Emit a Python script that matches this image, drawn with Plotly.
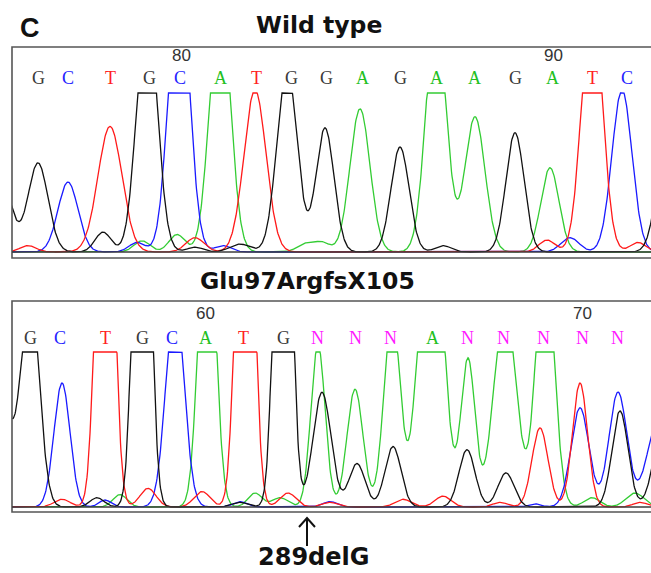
import numpy as np
import plotly.graph_objects as go

W, H = 651, 573

# ---------------- data ----------------
# Wild type panel: base calls, their scan positions, position ticks
wt_calls = list("GCTGCATGGAGAAGATC")
wt_call_pos = [38, 68, 110, 149, 180, 220, 256, 291, 326, 362, 400, 436, 474, 515, 552, 592, 627]
wt_tick_labels = ["80", "90"]
wt_tick_pos = [181, 553]

# Wild type trace peaks per dye channel: (scan position, relative height, width)
wt_peaks_G = [(2, 0.42, 10), (38, 0.56, 10), (103, 0.125, 8), (147, 1.57, 10), (195, 0.03, 8),
              (240, 0.05, 10), (287, 1.16, 10), (325, 0.78, 9), (400, 0.66, 9), (443, 0.04, 8),
              (515, 0.75, 9), (668, 0.8, 10)]
wt_peaks_C = [(68, 0.44, 10), (137, 0.06, 8), (179, 1.83, 10), (223, 0.04, 8), (570, 0.09, 9),
              (622, 1.02, 10)]
wt_peaks_T = [(28, 0.04, 8), (110, 0.79, 12), (195, 0.09, 9), (255, 1.02, 11), (547, 0.075, 8),
              (592, 1.65, 10), (638, 0.06, 8)]
wt_peaks_A = [(142, 0.07, 8), (177, 0.11, 8), (220, 1.65, 10), (305, 0.05, 8), (322, 0.06, 8),
              (360, 0.9, 10), (436, 1.5, 10), (475, 0.85, 10), (550, 0.53, 9)]

# Mutant panel (Glu97ArgfsX105)
mut_calls = list("GCTGCATGNNNANNNNN")
mut_call_pos = [30, 60, 105, 142, 172, 205, 243, 283, 317, 355, 390, 432, 467, 503, 543, 582, 617]
mut_tick_labels = ["60", "70"]
mut_tick_pos = [205, 582]

mut_peaks_G = [(2, 0.7, 9), (30, 1.42, 9), (97, 0.06, 7), (142, 4.0, 7), (240, 0.03, 8),
               (283, 4.0, 7), (322, 0.74, 9), (357, 0.28, 8), (393, 0.39, 8), (467, 0.37, 8),
               (506, 0.22, 8), (620, 0.62, 8), (665, 0.6, 10)]
mut_peaks_C = [(62, 0.8, 8), (105, 0.045, 6), (175, 1.35, 9), (240, 0.035, 7), (330, 0.035, 7),
               (535, 0.02, 6), (580, 0.64, 9), (618, 0.74, 9), (660, 0.6, 12)]
mut_peaks_T = [(62, 0.05, 8), (105, 3.7, 7.4), (148, 0.12, 8), (202, 0.1, 8), (245, 3.7, 7.4),
               (288, 0.09, 8), (330, 0.03, 8), (403, 0.05, 8), (443, 0.07, 8), (500, 0.03, 7),
               (540, 0.51, 8), (580, 0.8, 7.5), (640, 0.03, 7)]
mut_peaks_A = [(120, 0.08, 7), (207, 2.25, 7.8), (255, 0.09, 7), (280, 0.06, 8), (318, 1.05, 7),
               (355, 0.76, 8), (392, 1.26, 8), (431, 2.3, 11), (468, 0.95, 7), (505, 1.3, 11),
               (545, 1.7, 8.8), (592, 0.06, 8), (635, 0.09, 9)]

# ---------------- styling ----------------
DYE = {"A": "#33cc33", "C": "#1a1aff", "G": "#111111", "T": "#ff1a1a"}
CALL_COLOR = {"A": "#22c022", "C": "#2424ff", "G": "#3a3a3a", "T": "#ff2020", "N": "#ff1aff"}

xs = np.arange(0, 680.5, 0.5)


def signal(peaks):
    y = np.zeros_like(xs)
    for p, h, w in peaks:
        y += h * np.exp(-0.5 * ((xs - p) / w) ** 2)
    return np.minimum(y, 1.0)


def py(p):
    return 1 - p / H


def px(p):
    return p / W


fig = go.Figure()

panels = [
    dict(xa="x", ya="y", peaks={"A": wt_peaks_A, "C": wt_peaks_C, "T": wt_peaks_T, "G": wt_peaks_G}),
    dict(xa="x2", ya="y2", peaks={"A": mut_peaks_A, "C": mut_peaks_C, "T": mut_peaks_T, "G": mut_peaks_G}),
]
for pnl in panels:
    for base in ["A", "C", "T", "G"]:
        fig.add_trace(go.Scatter(x=xs, y=signal(pnl["peaks"][base]), mode="lines",
                                 line=dict(color=DYE[base], width=1.3),
                                 xaxis=pnl["xa"], yaxis=pnl["ya"], hoverinfo="skip",
                                 showlegend=False))

# geometry (pixels)
LEFT = 12
top_box = (47, 258)
top_base, top_peak = 252, 93
bot_box = (301, 512)
bot_base, bot_peak = 507, 352

t_scale = top_base - top_peak
b_scale = bot_base - bot_peak

axis_common = dict(showgrid=False, zeroline=False, showticklabels=False, ticks="", showline=False)
fig.update_layout(
    width=W, height=H, margin=dict(l=0, r=0, t=0, b=0),
    paper_bgcolor="white", plot_bgcolor="white",
    xaxis=dict(domain=[px(LEFT), 1], range=[LEFT, W], **axis_common),
    xaxis2=dict(domain=[px(LEFT), 1], range=[LEFT, W], anchor="y2", **axis_common),
    yaxis=dict(domain=[py(top_box[1]), py(top_box[0])],
               range=[-(top_box[1] - top_base) / t_scale, 1 + (top_peak - top_box[0]) / t_scale],
               **axis_common),
    yaxis2=dict(domain=[py(bot_box[1]), py(bot_box[0])],
                range=[-(bot_box[1] - bot_base) / b_scale, 1 + (bot_peak - bot_box[0]) / b_scale],
                anchor="x2", **axis_common),
)

shapes = []
for (b0, b1), base_px in [(top_box, top_base), (bot_box, bot_base)]:
    shapes.append(dict(type="rect", xref="paper", yref="paper", x0=px(LEFT), x1=1.02,
                       y0=py(b1), y1=py(b0), line=dict(color="#555555", width=1.6)))
for yref in ["y", "y2"]:
    shapes.append(dict(type="line", xref="paper", yref=yref, x0=px(LEFT), x1=1, y0=0, y1=0,
                       line=dict(color="#3c3c3c", width=1.4)))
# arrow marking the deletion
ax = 307
arrow_path = (f"M {px(ax)} {py(546)} L {px(ax)} {py(518)} "
              f"M {px(ax - 8)} {py(527)} L {px(ax)} {py(518)} L {px(ax + 8)} {py(527)}")
shapes.append(dict(type="path", xref="paper", yref="paper", path=arrow_path,
                   line=dict(color="#111111", width=2)))
fig.update_layout(shapes=shapes)

ann = []
title_font = dict(family="DejaVu Sans", size=23.5, color="#111111")


def label(text, x, y, font):
    ann.append(dict(text=text, x=px(x), y=py(y), xref="paper", yref="paper", showarrow=False,
                    xanchor="center", yanchor="middle", borderpad=0, font=font))


label("<b>C</b>", 30, 28, dict(family="Liberation Sans", size=27, color="#111111"))
label("<b>Wild type</b>", 319, 25, title_font)
label("<b>Glu97ArgfsX105</b>", 307, 281, title_font)
label("<b>289delG</b>", 313, 557, dict(family="DejaVu Sans", size=24, color="#111111"))

call_font = "Liberation Serif"
for calls, pos, xref, yref, ylet in [(wt_calls, wt_call_pos, "x", "y", 1 + (top_peak - 78) / t_scale),
                                     (mut_calls, mut_call_pos, "x2", "y2", 1 + (bot_peak - 338) / b_scale)]:
    for c, p in zip(calls, pos):
        ann.append(dict(text=c, x=p, y=ylet, xref=xref, yref=yref, showarrow=False,
                        xanchor="center", yanchor="middle",
                        font=dict(family=call_font, size=18, color=CALL_COLOR[c])))
for labels, pos, xref, yref, ynum in [(wt_tick_labels, wt_tick_pos, "x", "y", 1 + (top_peak - 55) / t_scale),
                                      (mut_tick_labels, mut_tick_pos, "x2", "y2", 1 + (bot_peak - 313) / b_scale)]:
    for lab, p in zip(labels, pos):
        ann.append(dict(text=lab, x=p, y=ynum, xref=xref, yref=yref, showarrow=False,
                        xanchor="center", yanchor="middle",
                        font=dict(family="Liberation Sans", size=17, color="#333333")))
fig.update_layout(annotations=ann)

fig.write_html("out.html", config={"displayModeBar": False},
               post_script="document.body.style.margin='0';document.body.style.padding='0';")
